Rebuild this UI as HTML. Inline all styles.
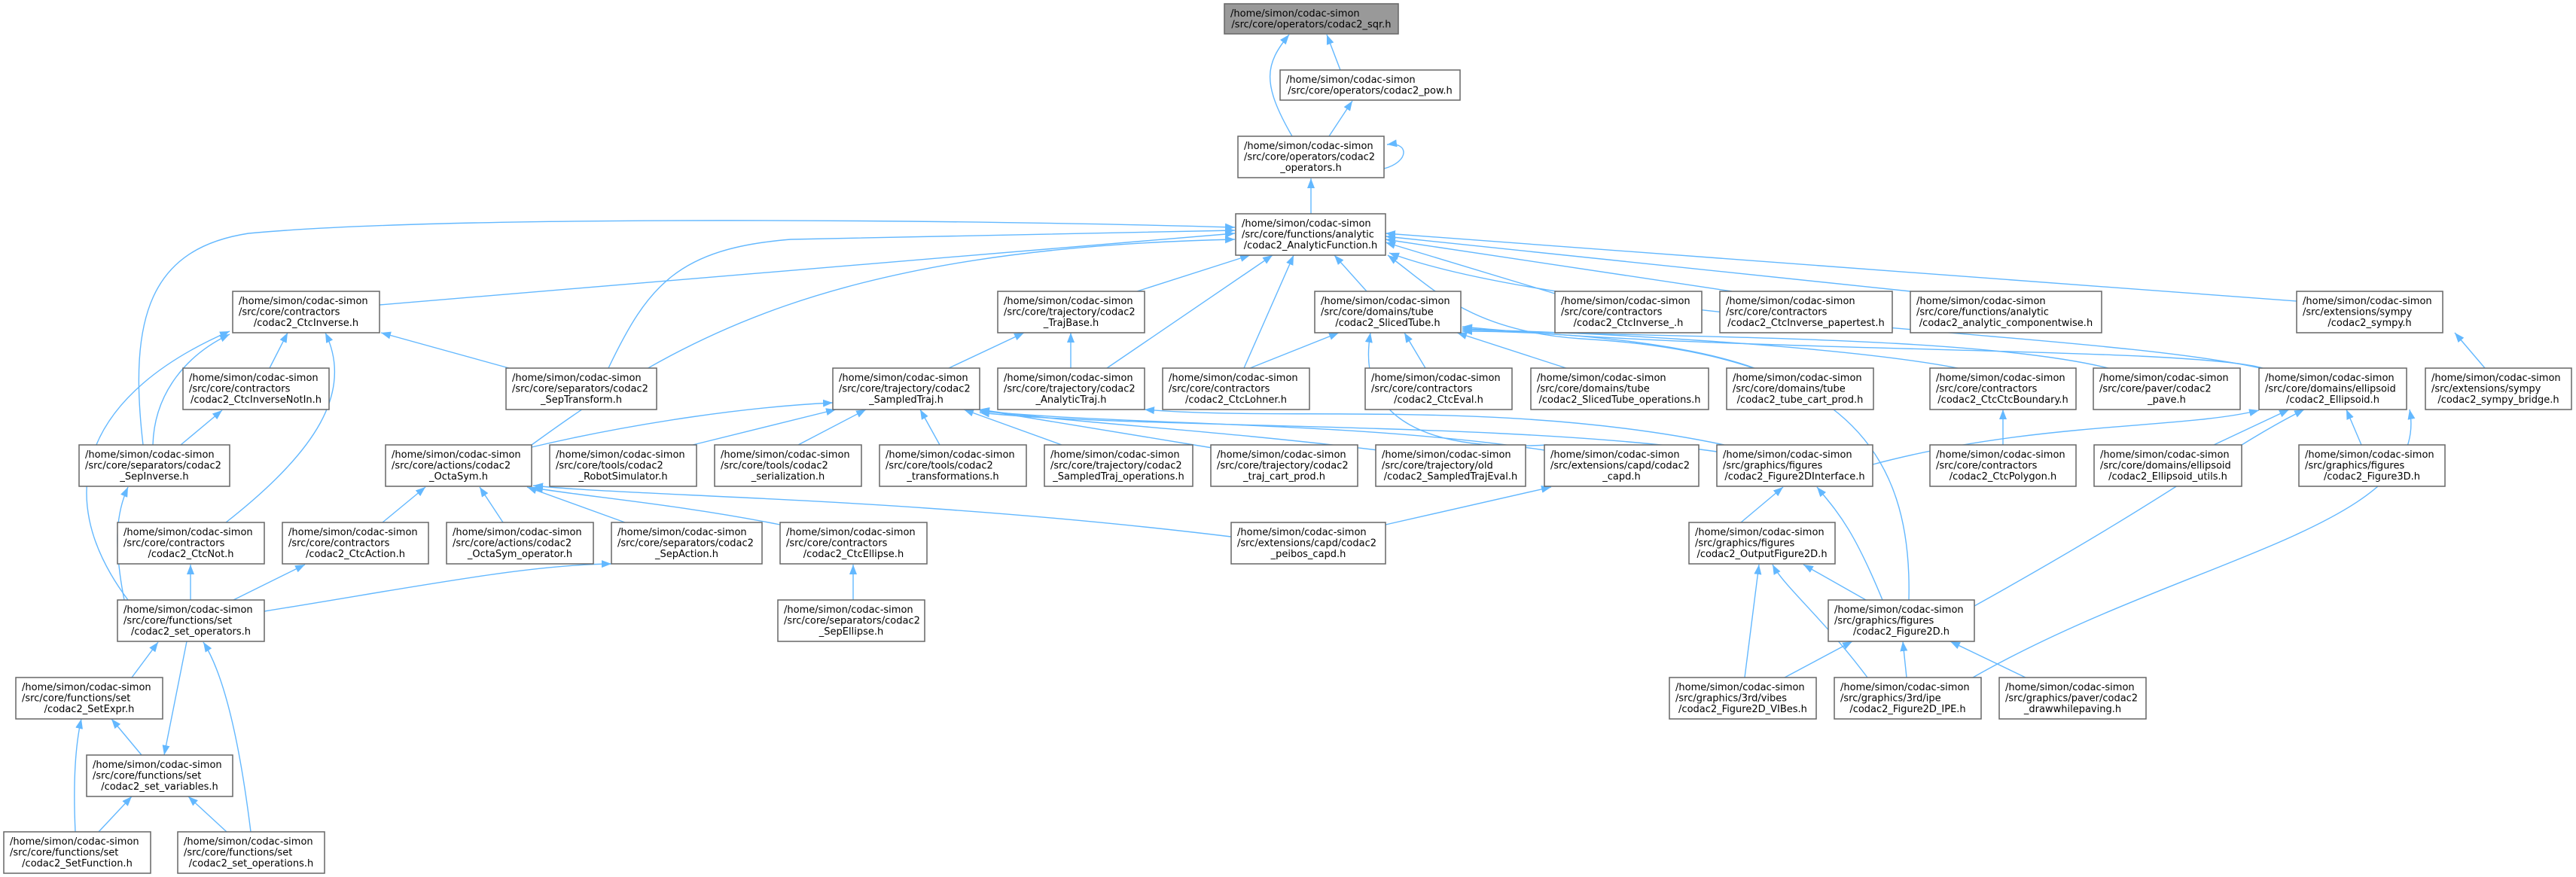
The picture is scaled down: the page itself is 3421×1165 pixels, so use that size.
<!DOCTYPE html>
<html><head><meta charset="utf-8"><style>
html,body{margin:0;padding:0;background:#fff;}
svg{display:block;}
text{font-family:"DejaVu Sans","Liberation Sans",sans-serif;font-size:13px;fill:#000;}
.n rect{fill:#fff;stroke:#666;stroke-width:1.5;}
.e{fill:none;stroke:#63B8FF;stroke-width:1.4;marker-end:url(#ah);}
</style></head><body>
<svg width="3421" height="1165" viewBox="0 0 3421 1165" xmlns="http://www.w3.org/2000/svg">
<defs><marker id="ah" markerUnits="userSpaceOnUse" markerWidth="14" markerHeight="10" refX="13" refY="5" orient="auto"><path d="M0,0 L13,5 L0,10 z" fill="#63B8FF"/></marker></defs>

<!-- edges -->
<path class="e" d="M1780,93 L1762,46"/>
<path class="e" d="M1716,181 C1675,110 1680,85 1712,46"/>
<path class="e" d="M1765,181 L1796,134"/>
<path class="e" d="M1838,224 C1872,215 1872,188 1842,192"/>
<path class="e" d="M1741,284 L1741,237"/>
<path class="e" d="M504,405 L1640,310"/>
<path class="e" d="M190,591 C170,420 200,330 330,310 C600,285 1300,292 1640,302"/>
<path class="e" d="M808,489 C860,380 900,330 1050,318 L1640,306"/>
<path class="e" d="M706,591 C900,450 1100,330 1640,318"/>
<path class="e" d="M1510,387 L1660,339"/>
<path class="e" d="M1470,489 L1690,339"/>
<path class="e" d="M1652,489 L1718,339"/>
<path class="e" d="M1815,387 L1772,339"/>
<path class="e" d="M2065,390 L1840,322"/>
<path class="e" d="M2300,387 L1840,318"/>
<path class="e" d="M2537,387 L1840,314"/>
<path class="e" d="M3050,400 L1840,310"/>
<path class="e" d="M3010,491 C2800,440 2100,430 1845,336"/>
<path class="e" d="M2535,797 C2540,600 2450,470 2100,450 C1950,440 1900,380 1843,339"/>
<path class="e" d="M1660,489 L1778,442"/>
<path class="e" d="M1893,489 L1865,442"/>
<path class="e" d="M2080,489 L1935,442"/>
<path class="e" d="M2330,489 C2250,460 2100,440 1942,440"/>
<path class="e" d="M2600,489 C2450,460 2100,440 1942,438"/>
<path class="e" d="M2800,489 C2600,440 2100,450 1942,436"/>
<path class="e" d="M3005,489 C2900,460 2300,470 1942,434"/>
<path class="e" d="M2055,591 C1900,600 1800,560 1820,442"/>
<path class="e" d="M1260,489 L1360,442"/>
<path class="e" d="M1422,489 L1422,442"/>
<path class="e" d="M706,594 C850,560 1000,540 1106,535"/>
<path class="e" d="M920,591 L1110,544"/>
<path class="e" d="M1060,591 L1150,544"/>
<path class="e" d="M1248,591 L1222,544"/>
<path class="e" d="M1410,591 L1280,544"/>
<path class="e" d="M1610,595 L1300,544"/>
<path class="e" d="M1830,598 C1600,570 1400,560 1301,544"/>
<path class="e" d="M2051,598 C1800,560 1500,565 1301,546"/>
<path class="e" d="M2280,600 C2000,560 1500,570 1301,548"/>
<path class="e" d="M2290,591 C2000,530 1700,560 1520,544"/>
<path class="e" d="M358,489 L382,442"/>
<path class="e" d="M676,489 L506,442"/>
<path class="e" d="M203,591 C205,520 250,470 305,444"/>
<path class="e" d="M300,694 C420,600 470,520 432,442"/>
<path class="e" d="M170,797 C60,650 120,520 305,440"/>
<path class="e" d="M240,591 L295,545"/>
<path class="e" d="M165,797 C150,720 155,680 170,647"/>
<path class="e" d="M508,694 L565,647"/>
<path class="e" d="M668,694 L637,647"/>
<path class="e" d="M830,694 L700,647"/>
<path class="e" d="M1036,697 C900,670 780,660 708,648"/>
<path class="e" d="M1635,713 C1200,660 850,660 708,645"/>
<path class="e" d="M253,797 L253,750"/>
<path class="e" d="M310,797 L405,750"/>
<path class="e" d="M351,812 C550,780 700,750 812,749"/>
<path class="e" d="M1133,797 L1133,750"/>
<path class="e" d="M1840,697 L2060,647"/>
<path class="e" d="M2312,694 L2368,647"/>
<path class="e" d="M2500,797 C2460,700 2440,680 2413,647"/>
<path class="e" d="M2478,797 L2395,750"/>
<path class="e" d="M2317,900 L2336,750"/>
<path class="e" d="M2480,900 C2420,820 2370,780 2354,750"/>
<path class="e" d="M2370,900 L2460,852"/>
<path class="e" d="M2532,900 L2527,852"/>
<path class="e" d="M2690,900 L2590,852"/>
<path class="e" d="M2487,617 C2700,560 2900,570 3000,545"/>
<path class="e" d="M2940,591 L3040,544"/>
<path class="e" d="M3136,591 L3116,544"/>
<path class="e" d="M2622,805 C2900,650 2950,600 3060,544"/>
<path class="e" d="M2620,900 C2900,740 3230,700 3200,544"/>
<path class="e" d="M2660,591 L2660,544"/>
<path class="e" d="M3300,489 L3260,442"/>
<path class="e" d="M175,900 L210,853"/>
<path class="e" d="M333,1105 C320,1000 300,900 270,853"/>
<path class="e" d="M248,852 L218,1003"/>
<path class="e" d="M188,1003 L148,955"/>
<path class="e" d="M100,1105 C97,1040 100,990 108,955"/>
<path class="e" d="M131,1105 L175,1058"/>
<path class="e" d="M301,1105 L250,1058"/>

<!-- nodes -->
<g class="n"><rect x="1626" y="5" width="231" height="40" style="fill:#999"/><text x="1634" y="22">/home/simon/codac-simon</text><text x="1741.5" y="36.5" text-anchor="middle">/src/core/operators/codac2_sqr.h</text></g>
<g class="n"><rect x="1700" y="93" width="239" height="40"/><text x="1708" y="110">/home/simon/codac-simon</text><text x="1819.5" y="124.5" text-anchor="middle">/src/core/operators/codac2_pow.h</text></g>
<g class="n"><rect x="1644" y="181" width="194" height="55"/><text x="1652" y="198">/home/simon/codac-simon</text><text x="1652" y="212.5">/src/core/operators/codac2</text><text x="1741" y="227" text-anchor="middle">_operators.h</text></g>
<g class="n"><rect x="1641" y="284" width="199" height="55"/><text x="1649" y="301">/home/simon/codac-simon</text><text x="1649" y="315.5">/src/core/functions/analytic</text><text x="1740.5" y="330" text-anchor="middle">/codac2_AnalyticFunction.h</text></g>

<g class="n"><rect x="309" y="387" width="195" height="55"/><text x="317" y="404">/home/simon/codac-simon</text><text x="317" y="418.5">/src/core/contractors</text><text x="406.5" y="433" text-anchor="middle">/codac2_CtcInverse.h</text></g>
<g class="n"><rect x="1325" y="387" width="195" height="55"/><text x="1333" y="404">/home/simon/codac-simon</text><text x="1333" y="418.5">/src/core/trajectory/codac2</text><text x="1422.5" y="433" text-anchor="middle">_TrajBase.h</text></g>
<g class="n"><rect x="1746" y="387" width="194" height="55"/><text x="1754" y="404">/home/simon/codac-simon</text><text x="1754" y="418.5">/src/core/domains/tube</text><text x="1843" y="433" text-anchor="middle">/codac2_SlicedTube.h</text></g>
<g class="n"><rect x="2065" y="387" width="195" height="55"/><text x="2073" y="404">/home/simon/codac-simon</text><text x="2073" y="418.5">/src/core/contractors</text><text x="2162.5" y="433" text-anchor="middle">/codac2_CtcInverse_.h</text></g>
<g class="n"><rect x="2284" y="387" width="229" height="55"/><text x="2292" y="404">/home/simon/codac-simon</text><text x="2292" y="418.5">/src/core/contractors</text><text x="2398.5" y="433" text-anchor="middle">/codac2_CtcInverse_papertest.h</text></g>
<g class="n"><rect x="2537" y="387" width="254" height="55"/><text x="2545" y="404">/home/simon/codac-simon</text><text x="2545" y="418.5">/src/core/functions/analytic</text><text x="2664" y="433" text-anchor="middle">/codac2_analytic_componentwise.h</text></g>
<g class="n"><rect x="3050" y="387" width="194" height="55"/><text x="3058" y="404">/home/simon/codac-simon</text><text x="3058" y="418.5">/src/extensions/sympy</text><text x="3147" y="433" text-anchor="middle">/codac2_sympy.h</text></g>

<g class="n"><rect x="243" y="489" width="194" height="55"/><text x="251" y="506">/home/simon/codac-simon</text><text x="251" y="520.5">/src/core/contractors</text><text x="340" y="535" text-anchor="middle">/codac2_CtcInverseNotIn.h</text></g>
<g class="n"><rect x="672" y="489" width="200" height="55"/><text x="680" y="506">/home/simon/codac-simon</text><text x="680" y="520.5">/src/core/separators/codac2</text><text x="772" y="535" text-anchor="middle">_SepTransform.h</text></g>
<g class="n"><rect x="1106" y="489" width="195" height="55"/><text x="1114" y="506">/home/simon/codac-simon</text><text x="1114" y="520.5">/src/core/trajectory/codac2</text><text x="1203.5" y="535" text-anchor="middle">_SampledTraj.h</text></g>
<g class="n"><rect x="1325" y="489" width="195" height="55"/><text x="1333" y="506">/home/simon/codac-simon</text><text x="1333" y="520.5">/src/core/trajectory/codac2</text><text x="1422.5" y="535" text-anchor="middle">_AnalyticTraj.h</text></g>
<g class="n"><rect x="1544" y="489" width="195" height="55"/><text x="1552" y="506">/home/simon/codac-simon</text><text x="1552" y="520.5">/src/core/contractors</text><text x="1641.5" y="535" text-anchor="middle">/codac2_CtcLohner.h</text></g>
<g class="n"><rect x="1813" y="489" width="195" height="55"/><text x="1821" y="506">/home/simon/codac-simon</text><text x="1821" y="520.5">/src/core/contractors</text><text x="1910.5" y="535" text-anchor="middle">/codac2_CtcEval.h</text></g>
<g class="n"><rect x="2033" y="489" width="236" height="55"/><text x="2041" y="506">/home/simon/codac-simon</text><text x="2041" y="520.5">/src/core/domains/tube</text><text x="2151" y="535" text-anchor="middle">/codac2_SlicedTube_operations.h</text></g>
<g class="n"><rect x="2293" y="489" width="195" height="55"/><text x="2301" y="506">/home/simon/codac-simon</text><text x="2301" y="520.5">/src/core/domains/tube</text><text x="2390.5" y="535" text-anchor="middle">/codac2_tube_cart_prod.h</text></g>
<g class="n"><rect x="2563" y="489" width="194" height="55"/><text x="2571" y="506">/home/simon/codac-simon</text><text x="2571" y="520.5">/src/core/contractors</text><text x="2660" y="535" text-anchor="middle">/codac2_CtcCtcBoundary.h</text></g>
<g class="n"><rect x="2780" y="489" width="195" height="55"/><text x="2788" y="506">/home/simon/codac-simon</text><text x="2788" y="520.5">/src/core/paver/codac2</text><text x="2877.5" y="535" text-anchor="middle">_pave.h</text></g>
<g class="n"><rect x="3000" y="489" width="196" height="55"/><text x="3008" y="506">/home/simon/codac-simon</text><text x="3008" y="520.5">/src/core/domains/ellipsoid</text><text x="3098" y="535" text-anchor="middle">/codac2_Ellipsoid.h</text></g>
<g class="n"><rect x="3221" y="489" width="194" height="55"/><text x="3229" y="506">/home/simon/codac-simon</text><text x="3229" y="520.5">/src/extensions/sympy</text><text x="3318" y="535" text-anchor="middle">/codac2_sympy_bridge.h</text></g>

<g class="n"><rect x="105" y="591" width="200" height="55"/><text x="113" y="608">/home/simon/codac-simon</text><text x="113" y="622.5">/src/core/separators/codac2</text><text x="205" y="637" text-anchor="middle">_SepInverse.h</text></g>
<g class="n"><rect x="512" y="591" width="194" height="55"/><text x="520" y="608">/home/simon/codac-simon</text><text x="520" y="622.5">/src/core/actions/codac2</text><text x="609" y="637" text-anchor="middle">_OctaSym.h</text></g>
<g class="n"><rect x="730" y="591" width="195" height="55"/><text x="738" y="608">/home/simon/codac-simon</text><text x="738" y="622.5">/src/core/tools/codac2</text><text x="827.5" y="637" text-anchor="middle">_RobotSimulator.h</text></g>
<g class="n"><rect x="949" y="591" width="195" height="55"/><text x="957" y="608">/home/simon/codac-simon</text><text x="957" y="622.5">/src/core/tools/codac2</text><text x="1046.5" y="637" text-anchor="middle">_serialization.h</text></g>
<g class="n"><rect x="1168" y="591" width="195" height="55"/><text x="1176" y="608">/home/simon/codac-simon</text><text x="1176" y="622.5">/src/core/tools/codac2</text><text x="1265.5" y="637" text-anchor="middle">_transformations.h</text></g>
<g class="n"><rect x="1387" y="591" width="197" height="55"/><text x="1395" y="608">/home/simon/codac-simon</text><text x="1395" y="622.5">/src/core/trajectory/codac2</text><text x="1485.5" y="637" text-anchor="middle">_SampledTraj_operations.h</text></g>
<g class="n"><rect x="1608" y="591" width="195" height="55"/><text x="1616" y="608">/home/simon/codac-simon</text><text x="1616" y="622.5">/src/core/trajectory/codac2</text><text x="1705.5" y="637" text-anchor="middle">_traj_cart_prod.h</text></g>
<g class="n"><rect x="1827" y="591" width="199" height="55"/><text x="1835" y="608">/home/simon/codac-simon</text><text x="1835" y="622.5">/src/core/trajectory/old</text><text x="1926.5" y="637" text-anchor="middle">/codac2_SampledTrajEval.h</text></g>
<g class="n"><rect x="2051" y="591" width="205" height="55"/><text x="2059" y="608">/home/simon/codac-simon</text><text x="2059" y="622.5">/src/extensions/capd/codac2</text><text x="2153.5" y="637" text-anchor="middle">_capd.h</text></g>
<g class="n"><rect x="2280" y="591" width="207" height="55"/><text x="2288" y="608">/home/simon/codac-simon</text><text x="2288" y="622.5">/src/graphics/figures</text><text x="2383.5" y="637" text-anchor="middle">/codac2_Figure2DInterface.h</text></g>
<g class="n"><rect x="2563" y="591" width="194" height="55"/><text x="2571" y="608">/home/simon/codac-simon</text><text x="2571" y="622.5">/src/core/contractors</text><text x="2660" y="637" text-anchor="middle">/codac2_CtcPolygon.h</text></g>
<g class="n"><rect x="2781" y="591" width="196" height="55"/><text x="2789" y="608">/home/simon/codac-simon</text><text x="2789" y="622.5">/src/core/domains/ellipsoid</text><text x="2879" y="637" text-anchor="middle">/codac2_Ellipsoid_utils.h</text></g>
<g class="n"><rect x="3053" y="591" width="194" height="55"/><text x="3061" y="608">/home/simon/codac-simon</text><text x="3061" y="622.5">/src/graphics/figures</text><text x="3150" y="637" text-anchor="middle">/codac2_Figure3D.h</text></g>

<g class="n"><rect x="156" y="694" width="195" height="55"/><text x="164" y="711">/home/simon/codac-simon</text><text x="164" y="725.5">/src/core/contractors</text><text x="253.5" y="740" text-anchor="middle">/codac2_CtcNot.h</text></g>
<g class="n"><rect x="375" y="694" width="194" height="55"/><text x="383" y="711">/home/simon/codac-simon</text><text x="383" y="725.5">/src/core/contractors</text><text x="472" y="740" text-anchor="middle">/codac2_CtcAction.h</text></g>
<g class="n"><rect x="593" y="694" width="195" height="55"/><text x="601" y="711">/home/simon/codac-simon</text><text x="601" y="725.5">/src/core/actions/codac2</text><text x="690.5" y="740" text-anchor="middle">_OctaSym_operator.h</text></g>
<g class="n"><rect x="812" y="694" width="200" height="55"/><text x="820" y="711">/home/simon/codac-simon</text><text x="820" y="725.5">/src/core/separators/codac2</text><text x="912" y="740" text-anchor="middle">_SepAction.h</text></g>
<g class="n"><rect x="1036" y="694" width="195" height="55"/><text x="1044" y="711">/home/simon/codac-simon</text><text x="1044" y="725.5">/src/core/contractors</text><text x="1133.5" y="740" text-anchor="middle">/codac2_CtcEllipse.h</text></g>
<g class="n"><rect x="1635" y="694" width="205" height="55"/><text x="1643" y="711">/home/simon/codac-simon</text><text x="1643" y="725.5">/src/extensions/capd/codac2</text><text x="1737.5" y="740" text-anchor="middle">_peibos_capd.h</text></g>
<g class="n"><rect x="2243" y="694" width="194" height="55"/><text x="2251" y="711">/home/simon/codac-simon</text><text x="2251" y="725.5">/src/graphics/figures</text><text x="2340" y="740" text-anchor="middle">/codac2_OutputFigure2D.h</text></g>

<g class="n"><rect x="156" y="797" width="195" height="55"/><text x="164" y="814">/home/simon/codac-simon</text><text x="164" y="828.5">/src/core/functions/set</text><text x="253.5" y="843" text-anchor="middle">/codac2_set_operators.h</text></g>
<g class="n"><rect x="1033" y="797" width="195" height="55"/><text x="1041" y="814">/home/simon/codac-simon</text><text x="1041" y="828.5">/src/core/separators/codac2</text><text x="1130.5" y="843" text-anchor="middle">_SepEllipse.h</text></g>
<g class="n"><rect x="2428" y="797" width="194" height="55"/><text x="2436" y="814">/home/simon/codac-simon</text><text x="2436" y="828.5">/src/graphics/figures</text><text x="2525" y="843" text-anchor="middle">/codac2_Figure2D.h</text></g>

<g class="n"><rect x="21" y="900" width="195" height="55"/><text x="29" y="917">/home/simon/codac-simon</text><text x="29" y="931.5">/src/core/functions/set</text><text x="118.5" y="946" text-anchor="middle">/codac2_SetExpr.h</text></g>
<g class="n"><rect x="2217" y="900" width="195" height="55"/><text x="2225" y="917">/home/simon/codac-simon</text><text x="2225" y="931.5">/src/graphics/3rd/vibes</text><text x="2314.5" y="946" text-anchor="middle">/codac2_Figure2D_VIBes.h</text></g>
<g class="n"><rect x="2436" y="900" width="195" height="55"/><text x="2444" y="917">/home/simon/codac-simon</text><text x="2444" y="931.5">/src/graphics/3rd/ipe</text><text x="2533.5" y="946" text-anchor="middle">/codac2_Figure2D_IPE.h</text></g>
<g class="n"><rect x="2655" y="900" width="195" height="55"/><text x="2663" y="917">/home/simon/codac-simon</text><text x="2663" y="931.5">/src/graphics/paver/codac2</text><text x="2752.5" y="946" text-anchor="middle">_drawwhilepaving.h</text></g>

<g class="n"><rect x="115" y="1003" width="194" height="55"/><text x="123" y="1020">/home/simon/codac-simon</text><text x="123" y="1034.5">/src/core/functions/set</text><text x="212" y="1049" text-anchor="middle">/codac2_set_variables.h</text></g>

<g class="n"><rect x="5" y="1105" width="195" height="55"/><text x="13" y="1122">/home/simon/codac-simon</text><text x="13" y="1136.5">/src/core/functions/set</text><text x="102.5" y="1151" text-anchor="middle">/codac2_SetFunction.h</text></g>
<g class="n"><rect x="236" y="1105" width="195" height="55"/><text x="244" y="1122">/home/simon/codac-simon</text><text x="244" y="1136.5">/src/core/functions/set</text><text x="333.5" y="1151" text-anchor="middle">/codac2_set_operations.h</text></g>
</svg>
</body></html>
